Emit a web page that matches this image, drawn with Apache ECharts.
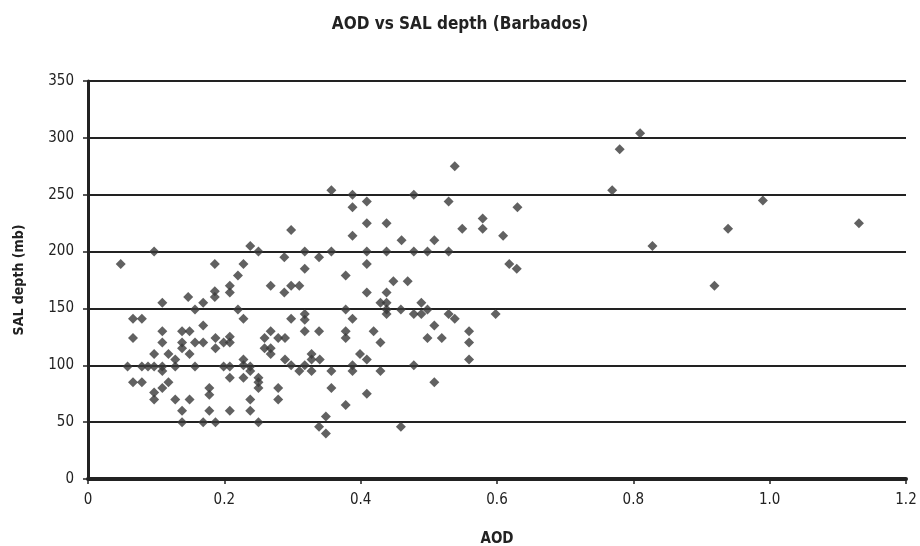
<!DOCTYPE html>
<html>
<head>
<meta charset="utf-8">
<script src="https://cdn.jsdelivr.net/npm/echarts@6/dist/echarts.min.js"></script>
<style>html,body{margin:0;padding:0;background:#fff;}#c{width:920px;height:546px;}</style>
</head>
<body>
<div id="c"></div>
<script>
var titleText = 'AOD vs SAL depth (Barbados)';
var xName = 'AOD';
var yName = 'SAL depth (mb)';
var aod = [
0.048,0.097,0.109,0.147,0.157,0.169,0.186,0.186,0.186,0.208,0.208,0.22,0.228,0.22,0.238,0.25,0.268,0.228,0.066,0.079,
0.169,0.066,0.109,0.138,0.149,0.109,0.138,0.157,0.169,0.187,0.208,0.199,0.208,0.187,0.138,0.149,0.097,0.118,0.128,0.259,
0.268,0.259,0.268,0.268,0.228,0.058,0.079,0.088,0.097,0.109,0.128,0.157,0.199,0.208,0.228,0.238,0.238,0.109,0.066,0.079,
0.118,0.109,0.097,0.097,0.128,0.149,0.178,0.178,0.208,0.228,0.25,0.25,0.25,0.238,0.138,0.178,0.208,0.238,0.138,0.169,
0.187,0.25,
0.357,0.388,0.409,0.478,0.529,0.388,0.298,0.409,0.438,0.388,0.46,0.508,0.318,0.357,0.409,0.438,0.478,0.498,0.529,0.288,
0.339,0.409,0.318,0.378,0.288,0.298,0.31,0.448,0.469,0.409,0.438,0.429,0.438,0.489,0.438,0.438,0.459,0.478,0.489,0.498,
0.529,0.538,0.378,0.318,0.298,0.388,
0.318,0.318,0.339,0.378,0.378,0.279,0.289,0.419,0.429,0.498,0.519,0.508,0.328,0.328,0.318,0.34,0.289,0.298,0.31,0.328,
0.357,0.388,0.388,0.399,0.409,0.429,0.478,0.508,0.279,0.279,0.357,0.409,0.378,0.349,0.339,0.349,0.459,
0.538,0.63,0.579,0.579,0.549,0.609,0.618,0.629,0.559,0.559,0.559,0.598,
0.81,0.78,0.769,0.99,0.939,1.131,0.828,0.919
];
var salDepth = [
189,200,155,160,149,155,189,165,160,170,164,179,189,149,205,200,170,141,141,141,
135,124,130,130,130,120,120,120,120,124,125,120,120,115,115,110,110,110,105,124,
130,115,115,110,105,99,99,99,99,99,99,99,99,99,100,99,95,95,85,85,
85,80,76,70,70,70,80,74,89,89,89,85,80,70,60,60,60,60,50,50,
50,50,
254,250,244,250,244,239,219,225,225,214,210,210,200,200,200,200,200,200,200,195,
195,189,185,179,164,170,170,174,174,164,164,155,155,155,149,145,149,145,145,149,
145,141,149,145,141,141,
140,130,130,130,124,124,124,130,120,124,124,135,110,105,100,105,105,100,95,95,
95,100,95,110,105,95,100,85,80,70,80,75,65,55,46,40,46,
275,239,229,220,220,214,189,185,130,120,105,145,
304,290,254,245,220,225,205,170
];
var xTicks = [0, 0.2, 0.4, 0.6, 0.8, 1.0, 1.2];
var yTicks = [0, 50, 100, 150, 200, 250, 300, 350];

var pts = aod.map(function (v, i) { return [v, salDepth[i]]; });
var font = "'Liberation Sans Narrow', 'DejaVu Sans Condensed', 'Liberation Sans', sans-serif";
var chart = echarts.init(document.getElementById('c'));
chart.setOption({
  backgroundColor: '#fff',
  animation: false,
  title: {
    text: titleText, left: 'center', top: 11,
    textStyle: { fontFamily: font, fontWeight: 'bold', fontSize: 17, color: '#222' }
  },
  grid: { left: 88, right: 14, top: 81, bottom: 67, outerBoundsMode: 'none', containLabel: false },
  xAxis: {
    type: 'value', min: xTicks[0], max: xTicks[xTicks.length - 1], interval: 0.2,
    name: xName, nameLocation: 'middle', nameGap: 53,
    nameTextStyle: { fontFamily: font, fontWeight: 'bold', fontSize: 15, color: '#222' },
    axisLine: { onZero: false, lineStyle: { color: '#222', width: 4 } },
    axisTick: { show: true, length: 5, lineStyle: { color: '#222', width: 1.5 } },
    axisLabel: { fontFamily: font, fontSize: 15, color: '#222', margin: 14,
      formatter: function (v) { return v === 0 ? '0' : v.toFixed(1); } },
    splitLine: { show: false }
  },
  yAxis: {
    type: 'value', min: yTicks[0], max: yTicks[yTicks.length - 1], interval: 50,
    name: yName, nameLocation: 'middle', nameGap: 62, nameRotate: 90,
    nameTextStyle: { fontFamily: font, fontWeight: 'bold', fontSize: 14, color: '#222' },
    axisLine: { show: true, lineStyle: { color: '#222', width: 3 } },
    axisTick: { show: true, length: 5, lineStyle: { color: '#222', width: 1.5 } },
    axisLabel: { fontFamily: font, fontSize: 15, color: '#222', margin: 14 },
    splitLine: { show: true, lineStyle: { color: '#222', width: 2 } }
  },
  series: [{
    type: 'scatter', data: pts, symbol: 'diamond', symbolSize: 10,
    itemStyle: { color: '#3a3a3a' }
  }]
});
</script>
</body>
</html>
